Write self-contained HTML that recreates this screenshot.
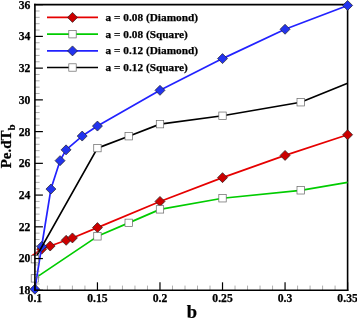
<!DOCTYPE html><html><head><meta charset="utf-8"><style>html,body{margin:0;padding:0;background:#fff;width:357px;height:318px;overflow:hidden;font-family:"Liberation Serif",serif}</style></head><body><svg width="357" height="318" viewBox="0 0 357 318" style="position:absolute;left:0;top:0;will-change:transform">
<polyline points="34.9,4.65 347.6,4.65 347.6,290.3" fill="none" stroke="#000" stroke-width="1.6" stroke-linejoin="miter" stroke-linecap="square"/>
<polyline points="31.65,256.02 41.65,249.20 50.16,246.02 66.17,240.31 72.42,237.93 97.44,227.62 159.98,201.43 222.52,177.63 285.06,155.41 347.60,134.78" fill="none" stroke="#e60000" stroke-width="1.7" stroke-linejoin="round"/>
<polygon points="41.65,244.20 46.65,249.20 41.65,254.20 36.65,249.20" fill="#cc0000" stroke="#222" stroke-width="0.7"/>
<polygon points="50.16,241.02 55.16,246.02 50.16,251.02 45.16,246.02" fill="#cc0000" stroke="#222" stroke-width="0.7"/>
<polygon points="66.17,235.31 71.17,240.31 66.17,245.31 61.17,240.31" fill="#cc0000" stroke="#222" stroke-width="0.7"/>
<polygon points="72.42,232.93 77.42,237.93 72.42,242.93 67.42,237.93" fill="#cc0000" stroke="#222" stroke-width="0.7"/>
<polygon points="97.44,222.62 102.44,227.62 97.44,232.62 92.44,227.62" fill="#cc0000" stroke="#222" stroke-width="0.7"/>
<polygon points="159.98,196.43 164.98,201.43 159.98,206.43 154.98,201.43" fill="#cc0000" stroke="#222" stroke-width="0.7"/>
<polygon points="222.52,172.63 227.52,177.63 222.52,182.63 217.52,177.63" fill="#cc0000" stroke="#222" stroke-width="0.7"/>
<polygon points="285.06,150.41 290.06,155.41 285.06,160.41 280.06,155.41" fill="#cc0000" stroke="#222" stroke-width="0.7"/>
<polygon points="347.60,129.78 352.60,134.78 347.60,139.78 342.60,134.78" fill="#cc0000" stroke="#222" stroke-width="0.7"/>
<polyline points="34.90,278.40 97.44,236.34 128.71,222.85 159.98,209.37 222.52,198.26 300.69,190.32 347.60,182.39" fill="none" stroke="#00cc00" stroke-width="1.7" stroke-linejoin="round"/>
<rect x="31.20" y="274.70" width="7.40" height="7.40" fill="#fff" stroke="#666" stroke-width="0.7"/>
<rect x="93.74" y="232.64" width="7.40" height="7.40" fill="#fff" stroke="#666" stroke-width="0.7"/>
<rect x="125.01" y="219.15" width="7.40" height="7.40" fill="#fff" stroke="#666" stroke-width="0.7"/>
<rect x="156.28" y="205.67" width="7.40" height="7.40" fill="#fff" stroke="#666" stroke-width="0.7"/>
<rect x="218.82" y="194.56" width="7.40" height="7.40" fill="#fff" stroke="#666" stroke-width="0.7"/>
<rect x="297.00" y="186.62" width="7.40" height="7.40" fill="#fff" stroke="#666" stroke-width="0.7"/>
<polyline points="34.90,289.19 41.65,246.50 50.91,189.05 60.04,160.65 66.04,149.86 82.18,136.05 97.44,126.05 159.98,90.34 222.52,58.61 285.06,29.25 347.60,5.44" fill="none" stroke="#2222ff" stroke-width="1.7" stroke-linejoin="round"/>
<polygon points="34.90,284.19 39.90,289.19 34.90,294.19 29.90,289.19" fill="#2233ee" stroke="#222" stroke-width="0.7"/>
<polygon points="41.65,241.50 46.65,246.50 41.65,251.50 36.65,246.50" fill="#2233ee" stroke="#222" stroke-width="0.7"/>
<polygon points="50.91,184.05 55.91,189.05 50.91,194.05 45.91,189.05" fill="#2233ee" stroke="#222" stroke-width="0.7"/>
<polygon points="60.04,155.65 65.04,160.65 60.04,165.65 55.04,160.65" fill="#2233ee" stroke="#222" stroke-width="0.7"/>
<polygon points="66.04,144.86 71.04,149.86 66.04,154.86 61.04,149.86" fill="#2233ee" stroke="#222" stroke-width="0.7"/>
<polygon points="82.18,131.05 87.18,136.05 82.18,141.05 77.18,136.05" fill="#2233ee" stroke="#222" stroke-width="0.7"/>
<polygon points="97.44,121.05 102.44,126.05 97.44,131.05 92.44,126.05" fill="#2233ee" stroke="#222" stroke-width="0.7"/>
<polygon points="159.98,85.34 164.98,90.34 159.98,95.34 154.98,90.34" fill="#2233ee" stroke="#222" stroke-width="0.7"/>
<polygon points="222.52,53.61 227.52,58.61 222.52,63.61 217.52,58.61" fill="#2233ee" stroke="#222" stroke-width="0.7"/>
<polygon points="285.06,24.25 290.06,29.25 285.06,34.25 280.06,29.25" fill="#2233ee" stroke="#222" stroke-width="0.7"/>
<polygon points="347.60,0.44 352.60,5.44 347.60,10.44 342.60,5.44" fill="#2233ee" stroke="#222" stroke-width="0.7"/>
<polyline points="34.90,259.20 97.44,148.11 128.71,136.21 159.98,124.15 222.52,115.74 300.69,102.25 347.60,83.20" fill="none" stroke="#000" stroke-width="1.7" stroke-linejoin="round"/>
<rect x="31.20" y="255.50" width="7.40" height="7.40" fill="#fff" stroke="#666" stroke-width="0.7"/>
<rect x="93.74" y="144.41" width="7.40" height="7.40" fill="#fff" stroke="#666" stroke-width="0.7"/>
<rect x="125.01" y="132.51" width="7.40" height="7.40" fill="#fff" stroke="#666" stroke-width="0.7"/>
<rect x="156.28" y="120.45" width="7.40" height="7.40" fill="#fff" stroke="#666" stroke-width="0.7"/>
<rect x="218.82" y="112.04" width="7.40" height="7.40" fill="#fff" stroke="#666" stroke-width="0.7"/>
<rect x="297.00" y="98.55" width="7.40" height="7.40" fill="#fff" stroke="#666" stroke-width="0.7"/>
<line x1="34.9" y1="4.65" x2="42.9" y2="4.65" stroke="#000" stroke-width="1.2"/>
<line x1="34.9" y1="11.00" x2="39.6" y2="11.00" stroke="#777" stroke-width="0.6"/>
<line x1="34.9" y1="17.35" x2="39.6" y2="17.35" stroke="#777" stroke-width="0.6"/>
<line x1="34.9" y1="23.69" x2="39.6" y2="23.69" stroke="#777" stroke-width="0.6"/>
<line x1="34.9" y1="30.04" x2="39.6" y2="30.04" stroke="#777" stroke-width="0.6"/>
<line x1="34.9" y1="36.39" x2="42.9" y2="36.39" stroke="#000" stroke-width="1.2"/>
<line x1="34.9" y1="42.74" x2="39.6" y2="42.74" stroke="#777" stroke-width="0.6"/>
<line x1="34.9" y1="49.08" x2="39.6" y2="49.08" stroke="#777" stroke-width="0.6"/>
<line x1="34.9" y1="55.43" x2="39.6" y2="55.43" stroke="#777" stroke-width="0.6"/>
<line x1="34.9" y1="61.78" x2="39.6" y2="61.78" stroke="#777" stroke-width="0.6"/>
<line x1="34.9" y1="68.13" x2="42.9" y2="68.13" stroke="#000" stroke-width="1.2"/>
<line x1="34.9" y1="74.48" x2="39.6" y2="74.48" stroke="#777" stroke-width="0.6"/>
<line x1="34.9" y1="80.82" x2="39.6" y2="80.82" stroke="#777" stroke-width="0.6"/>
<line x1="34.9" y1="87.17" x2="39.6" y2="87.17" stroke="#777" stroke-width="0.6"/>
<line x1="34.9" y1="93.52" x2="39.6" y2="93.52" stroke="#777" stroke-width="0.6"/>
<line x1="34.9" y1="99.87" x2="42.9" y2="99.87" stroke="#000" stroke-width="1.2"/>
<line x1="34.9" y1="106.21" x2="39.6" y2="106.21" stroke="#777" stroke-width="0.6"/>
<line x1="34.9" y1="112.56" x2="39.6" y2="112.56" stroke="#777" stroke-width="0.6"/>
<line x1="34.9" y1="118.91" x2="39.6" y2="118.91" stroke="#777" stroke-width="0.6"/>
<line x1="34.9" y1="125.26" x2="39.6" y2="125.26" stroke="#777" stroke-width="0.6"/>
<line x1="34.9" y1="131.61" x2="42.9" y2="131.61" stroke="#000" stroke-width="1.2"/>
<line x1="34.9" y1="137.95" x2="39.6" y2="137.95" stroke="#777" stroke-width="0.6"/>
<line x1="34.9" y1="144.30" x2="39.6" y2="144.30" stroke="#777" stroke-width="0.6"/>
<line x1="34.9" y1="150.65" x2="39.6" y2="150.65" stroke="#777" stroke-width="0.6"/>
<line x1="34.9" y1="157.00" x2="39.6" y2="157.00" stroke="#777" stroke-width="0.6"/>
<line x1="34.9" y1="163.34" x2="42.9" y2="163.34" stroke="#000" stroke-width="1.2"/>
<line x1="34.9" y1="169.69" x2="39.6" y2="169.69" stroke="#777" stroke-width="0.6"/>
<line x1="34.9" y1="176.04" x2="39.6" y2="176.04" stroke="#777" stroke-width="0.6"/>
<line x1="34.9" y1="182.39" x2="39.6" y2="182.39" stroke="#777" stroke-width="0.6"/>
<line x1="34.9" y1="188.74" x2="39.6" y2="188.74" stroke="#777" stroke-width="0.6"/>
<line x1="34.9" y1="195.08" x2="42.9" y2="195.08" stroke="#000" stroke-width="1.2"/>
<line x1="34.9" y1="201.43" x2="39.6" y2="201.43" stroke="#777" stroke-width="0.6"/>
<line x1="34.9" y1="207.78" x2="39.6" y2="207.78" stroke="#777" stroke-width="0.6"/>
<line x1="34.9" y1="214.13" x2="39.6" y2="214.13" stroke="#777" stroke-width="0.6"/>
<line x1="34.9" y1="220.47" x2="39.6" y2="220.47" stroke="#777" stroke-width="0.6"/>
<line x1="34.9" y1="226.82" x2="42.9" y2="226.82" stroke="#000" stroke-width="1.2"/>
<line x1="34.9" y1="233.17" x2="39.6" y2="233.17" stroke="#777" stroke-width="0.6"/>
<line x1="34.9" y1="239.52" x2="39.6" y2="239.52" stroke="#777" stroke-width="0.6"/>
<line x1="34.9" y1="245.87" x2="39.6" y2="245.87" stroke="#777" stroke-width="0.6"/>
<line x1="34.9" y1="252.21" x2="39.6" y2="252.21" stroke="#777" stroke-width="0.6"/>
<line x1="34.9" y1="258.56" x2="42.9" y2="258.56" stroke="#000" stroke-width="1.2"/>
<line x1="34.9" y1="264.91" x2="39.6" y2="264.91" stroke="#777" stroke-width="0.6"/>
<line x1="34.9" y1="271.26" x2="39.6" y2="271.26" stroke="#777" stroke-width="0.6"/>
<line x1="34.9" y1="277.60" x2="39.6" y2="277.60" stroke="#777" stroke-width="0.6"/>
<line x1="34.9" y1="283.95" x2="39.6" y2="283.95" stroke="#777" stroke-width="0.6"/>
<line x1="34.9" y1="290.30" x2="42.9" y2="290.30" stroke="#000" stroke-width="1.2"/>
<line x1="34.90" y1="290.3" x2="34.90" y2="282.3" stroke="#000" stroke-width="1.2"/>
<line x1="47.41" y1="290.3" x2="47.41" y2="285.6" stroke="#777" stroke-width="0.6"/>
<line x1="59.92" y1="290.3" x2="59.92" y2="285.6" stroke="#777" stroke-width="0.6"/>
<line x1="72.42" y1="290.3" x2="72.42" y2="285.6" stroke="#777" stroke-width="0.6"/>
<line x1="84.93" y1="290.3" x2="84.93" y2="285.6" stroke="#777" stroke-width="0.6"/>
<line x1="97.44" y1="290.3" x2="97.44" y2="282.3" stroke="#000" stroke-width="1.2"/>
<line x1="109.95" y1="290.3" x2="109.95" y2="285.6" stroke="#777" stroke-width="0.6"/>
<line x1="122.46" y1="290.3" x2="122.46" y2="285.6" stroke="#777" stroke-width="0.6"/>
<line x1="134.96" y1="290.3" x2="134.96" y2="285.6" stroke="#777" stroke-width="0.6"/>
<line x1="147.47" y1="290.3" x2="147.47" y2="285.6" stroke="#777" stroke-width="0.6"/>
<line x1="159.98" y1="290.3" x2="159.98" y2="282.3" stroke="#000" stroke-width="1.2"/>
<line x1="172.49" y1="290.3" x2="172.49" y2="285.6" stroke="#777" stroke-width="0.6"/>
<line x1="185.00" y1="290.3" x2="185.00" y2="285.6" stroke="#777" stroke-width="0.6"/>
<line x1="197.50" y1="290.3" x2="197.50" y2="285.6" stroke="#777" stroke-width="0.6"/>
<line x1="210.01" y1="290.3" x2="210.01" y2="285.6" stroke="#777" stroke-width="0.6"/>
<line x1="222.52" y1="290.3" x2="222.52" y2="282.3" stroke="#000" stroke-width="1.2"/>
<line x1="235.03" y1="290.3" x2="235.03" y2="285.6" stroke="#777" stroke-width="0.6"/>
<line x1="247.54" y1="290.3" x2="247.54" y2="285.6" stroke="#777" stroke-width="0.6"/>
<line x1="260.04" y1="290.3" x2="260.04" y2="285.6" stroke="#777" stroke-width="0.6"/>
<line x1="272.55" y1="290.3" x2="272.55" y2="285.6" stroke="#777" stroke-width="0.6"/>
<line x1="285.06" y1="290.3" x2="285.06" y2="282.3" stroke="#000" stroke-width="1.2"/>
<line x1="297.57" y1="290.3" x2="297.57" y2="285.6" stroke="#777" stroke-width="0.6"/>
<line x1="310.08" y1="290.3" x2="310.08" y2="285.6" stroke="#777" stroke-width="0.6"/>
<line x1="322.58" y1="290.3" x2="322.58" y2="285.6" stroke="#777" stroke-width="0.6"/>
<line x1="335.09" y1="290.3" x2="335.09" y2="285.6" stroke="#777" stroke-width="0.6"/>
<line x1="347.60" y1="290.3" x2="347.60" y2="282.3" stroke="#000" stroke-width="1.2"/>
<polyline points="34.9,4.65 34.9,290.3 347.6,290.3" fill="none" stroke="#000" stroke-width="1.6" stroke-linejoin="miter" stroke-linecap="square"/>
<line x1="47" y1="17.4" x2="98" y2="17.4" stroke="#e60000" stroke-width="1.7"/>
<polygon points="72.50,12.40 77.50,17.40 72.50,22.40 67.50,17.40" fill="#cc0000" stroke="#222" stroke-width="0.7"/>
<text x="105.6" y="20.80" font-family="Liberation Serif, serif" font-weight="bold" stroke="#000" stroke-width="0.25" font-size="11.3">a = 0.08 (Diamond)</text>
<line x1="47" y1="34.2" x2="98" y2="34.2" stroke="#00cc00" stroke-width="1.7"/>
<rect x="68.80" y="30.50" width="7.40" height="7.40" fill="#fff" stroke="#666" stroke-width="0.7"/>
<text x="105.6" y="37.60" font-family="Liberation Serif, serif" font-weight="bold" stroke="#000" stroke-width="0.25" font-size="11.3">a = 0.08 (Square)</text>
<line x1="47" y1="50.9" x2="98" y2="50.9" stroke="#2222ff" stroke-width="1.7"/>
<polygon points="72.50,45.90 77.50,50.90 72.50,55.90 67.50,50.90" fill="#2233ee" stroke="#222" stroke-width="0.7"/>
<text x="105.6" y="54.30" font-family="Liberation Serif, serif" font-weight="bold" stroke="#000" stroke-width="0.25" font-size="11.3">a = 0.12 (Diamond)</text>
<line x1="47" y1="67.5" x2="98" y2="67.5" stroke="#000" stroke-width="1.7"/>
<rect x="68.80" y="63.80" width="7.40" height="7.40" fill="#fff" stroke="#666" stroke-width="0.7"/>
<text x="105.6" y="70.90" font-family="Liberation Serif, serif" font-weight="bold" stroke="#000" stroke-width="0.25" font-size="11.3">a = 0.12 (Square)</text>
<text x="30.4" y="294.20" text-anchor="end" font-family="Liberation Serif, serif" font-weight="bold" stroke="#000" stroke-width="0.25" font-size="11.7">18</text>
<text x="30.4" y="262.46" text-anchor="end" font-family="Liberation Serif, serif" font-weight="bold" stroke="#000" stroke-width="0.25" font-size="11.7">20</text>
<text x="30.4" y="230.72" text-anchor="end" font-family="Liberation Serif, serif" font-weight="bold" stroke="#000" stroke-width="0.25" font-size="11.7">22</text>
<text x="30.4" y="198.98" text-anchor="end" font-family="Liberation Serif, serif" font-weight="bold" stroke="#000" stroke-width="0.25" font-size="11.7">24</text>
<text x="30.4" y="167.24" text-anchor="end" font-family="Liberation Serif, serif" font-weight="bold" stroke="#000" stroke-width="0.25" font-size="11.7">26</text>
<text x="30.4" y="135.51" text-anchor="end" font-family="Liberation Serif, serif" font-weight="bold" stroke="#000" stroke-width="0.25" font-size="11.7">28</text>
<text x="30.4" y="103.77" text-anchor="end" font-family="Liberation Serif, serif" font-weight="bold" stroke="#000" stroke-width="0.25" font-size="11.7">30</text>
<text x="30.4" y="72.03" text-anchor="end" font-family="Liberation Serif, serif" font-weight="bold" stroke="#000" stroke-width="0.25" font-size="11.7">32</text>
<text x="30.4" y="40.29" text-anchor="end" font-family="Liberation Serif, serif" font-weight="bold" stroke="#000" stroke-width="0.25" font-size="11.7">34</text>
<text x="30.4" y="8.55" text-anchor="end" font-family="Liberation Serif, serif" font-weight="bold" stroke="#000" stroke-width="0.25" font-size="11.7">36</text>
<text x="34.90" y="301.7" text-anchor="middle" font-family="Liberation Serif, serif" font-weight="bold" stroke="#000" stroke-width="0.25" font-size="11.7">0.1</text>
<text x="97.44" y="301.7" text-anchor="middle" font-family="Liberation Serif, serif" font-weight="bold" stroke="#000" stroke-width="0.25" font-size="11.7">0.15</text>
<text x="159.98" y="301.7" text-anchor="middle" font-family="Liberation Serif, serif" font-weight="bold" stroke="#000" stroke-width="0.25" font-size="11.7">0.2</text>
<text x="222.52" y="301.7" text-anchor="middle" font-family="Liberation Serif, serif" font-weight="bold" stroke="#000" stroke-width="0.25" font-size="11.7">0.25</text>
<text x="285.06" y="301.7" text-anchor="middle" font-family="Liberation Serif, serif" font-weight="bold" stroke="#000" stroke-width="0.25" font-size="11.7">0.3</text>
<text x="347.60" y="301.7" text-anchor="middle" font-family="Liberation Serif, serif" font-weight="bold" stroke="#000" stroke-width="0.25" font-size="11.7">0.35</text>
<text x="192" y="317.6" text-anchor="middle" font-family="Liberation Serif, serif" font-weight="bold" stroke="#000" stroke-width="0.25" font-size="18.5">b</text>
<text transform="translate(10.5,146.3) rotate(-90)" text-anchor="middle" font-family="Liberation Serif, serif" font-weight="bold" stroke="#000" stroke-width="0.25" font-size="15">Pe.dT<tspan dy="4.3" font-size="11">b</tspan></text>
</svg></body></html>
